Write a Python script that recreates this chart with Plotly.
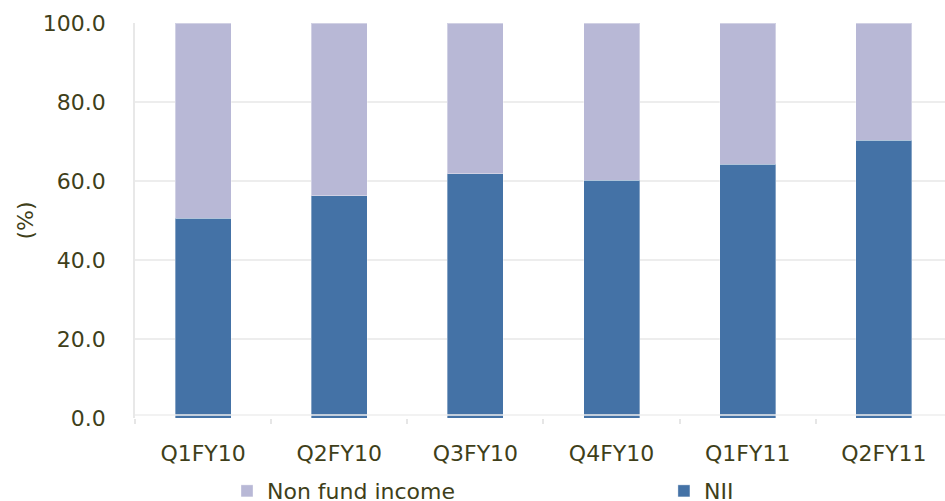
import plotly.graph_objects as go

# Quarterly income mix (%)
quarters = ["Q1FY10", "Q2FY10", "Q3FY10", "Q4FY10", "Q1FY11", "Q2FY11"]
nii = [50.6, 56.3, 61.8, 60.2, 64.3, 70.3]
non_fund_income = [round(100 - v, 1) for v in nii]

TEXT = "#3F3F1A"
GRID = "#EDEDED"
FONT = "DejaVu Sans"

fig = go.Figure()
fig.add_trace(go.Bar(
    name="NII", x=quarters, y=nii, legend="legend2",
    marker=dict(color="#4472A6", line=dict(color="rgba(255,255,255,0.35)", width=1)),
))
fig.add_trace(go.Bar(
    name="Non fund income", x=quarters, y=non_fund_income, legend="legend",
    marker=dict(color="#B8B8D6", line=dict(color="rgba(255,255,255,0.35)", width=1)),
))

# light baseline drawn over the bars, just above zero
fig.add_shape(
    type="line", xref="paper", x0=0, x1=1,
    yref="y", ysizemode="pixel", yanchor=0, y0=3, y1=3,
    line=dict(color="#EEEEEE", width=1.5), layer="above",
)

legend_style = dict(
    orientation="h", xanchor="left", y=-0.185, yanchor="middle",
    font=dict(family=FONT, size=22, color=TEXT),
    bgcolor="rgba(0,0,0,0)",
)

fig.update_layout(
    width=945, height=501,
    margin=dict(l=135, r=0, t=23, b=83, autoexpand=False),
    paper_bgcolor="white", plot_bgcolor="white",
    barmode="stack", bargap=0.589,
    font=dict(family=FONT, size=22, color=TEXT),
    showlegend=True,
    legend=dict(x=0.1136, **legend_style),
    legend2=dict(x=0.653, **legend_style),
)

fig.update_xaxes(
    type="category", range=[-0.5, 5.449],
    showgrid=False, showline=False, zeroline=False,
    ticks="outside", tickson="boundaries", ticklen=5, tickwidth=2, tickcolor="#E6E6E6",
    ticklabelstandoff=20,
    tickfont=dict(family=FONT, size=22, color=TEXT),
)
fig.update_yaxes(
    range=[0, 100], dtick=20, tickformat=".1f",
    showgrid=True, gridcolor=GRID, gridwidth=1.5,
    zeroline=True, zerolinecolor="rgba(0,0,0,0)",
    showline=True, linecolor="#E8E8E8", linewidth=1.5,
    ticks="", ticklabelstandoff=23,
    tickfont=dict(family=FONT, size=22, color=TEXT),
    title=dict(text="(%)", standoff=3, font=dict(family=FONT, size=22, color=TEXT)),
)

fig.write_html("out.html")
